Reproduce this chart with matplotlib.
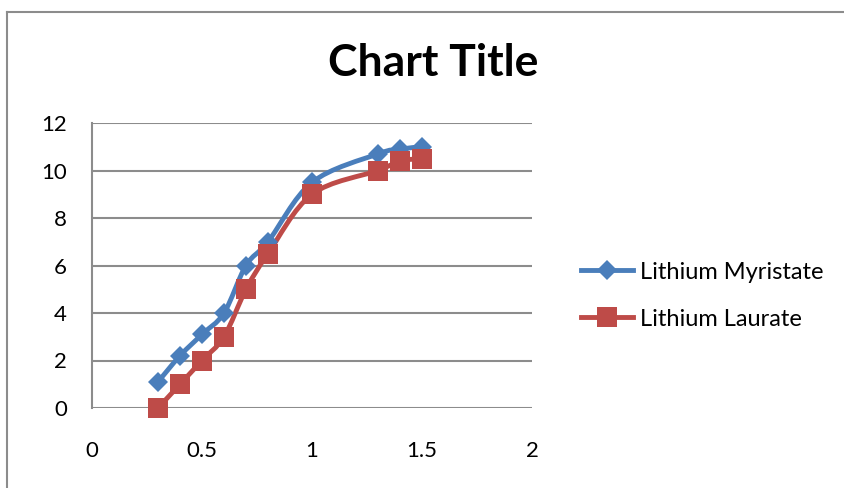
import numpy as np
import matplotlib.pyplot as plt
from matplotlib.path import Path
from matplotlib.patches import PathPatch
from matplotlib.lines import Line2D

# Dados das duas séries
conc = [0.3, 0.4, 0.5, 0.6, 0.7, 0.8, 1.0, 1.3, 1.4, 1.5]
myristate = [1.1, 2.2, 3.1, 4.0, 6.0, 7.0, 9.5, 10.7, 10.9, 11.0]
laurate = [0.0, 1.0, 2.0, 3.0, 5.0, 6.5, 9.0, 10.0, 10.4, 10.5]

x_ticks = [0, 0.5, 1, 1.5, 2]
x_labels = ["0", "0.5", "1", "1.5", "2"]
y_ticks = [0, 2, 4, 6, 8, 10, 12]

BLUE = "#4A7EBB"
RED = "#BE4B48"
GRID = "#8C8C8C"

plt.rcParams['font.family'] = ['Lato', 'DejaVu Sans']


def smooth_path(xs, ys):
    """Curva suavizada (Catmull-Rom em Bézier cúbica) passando pelos pontos."""
    pts = np.column_stack([xs, ys]).astype(float)
    n = len(pts)
    verts = [pts[0]]
    codes = [Path.MOVETO]
    for i in range(n - 1):
        p0 = pts[i - 1] if i > 0 else pts[i]
        p1 = pts[i]
        p2 = pts[i + 1]
        p3 = pts[i + 2] if i + 2 < n else pts[i + 1]
        c1 = p1 + (p2 - p0) / 6.0
        c2 = p2 - (p3 - p1) / 6.0
        verts += [c1, c2, p2]
        codes += [Path.CURVE4] * 3
    return Path(verts, codes)


fig = plt.figure(figsize=(8.44, 4.88), dpi=100)
ax = fig.add_axes([92 / 844, 1 - 408 / 488, 440 / 844, 285 / 488])

for ys, color, marker, ms, label in [
    (myristate, BLUE, "D", 10.5, "Lithium Myristate"),
    (laurate, RED, "s", 14, "Lithium Laurate"),
]:
    ax.add_patch(PathPatch(smooth_path(conc, ys), facecolor="none",
                           edgecolor=color, lw=3.5, capstyle="round",
                           joinstyle="round", zorder=3))
    ax.plot(conc, ys, linestyle="none", marker=marker, ms=ms, color=color,
            markeredgewidth=0, zorder=4, clip_on=False)
    ax.plot([], [], color=color, lw=3.5, marker=marker, ms=ms,
            markeredgewidth=0, label=label)

ax.set_xlim(0, 2)
ax.set_ylim(0, 12)
ax.set_xticks(x_ticks)
ax.set_xticklabels(x_labels)
ax.set_yticks(y_ticks)
ax.tick_params(axis="x", length=0, pad=24, labelsize=16)
ax.tick_params(axis="y", length=0, pad=18, labelsize=16)

ax.grid(axis="y", color=GRID, lw=1.5)
ax.set_axisbelow(True)
for side in ["top", "right", "bottom"]:
    ax.spines[side].set_visible(False)
ax.spines["left"].set_color(GRID)
ax.spines["left"].set_linewidth(1.5)

fig.text(433 / 844, 1 - 63 / 488, "Chart Title", ha="center", va="center",
         fontsize=32, fontweight="bold")

leg = ax.legend(loc="center left", bbox_to_anchor=(1.063, 0.394), frameon=False,
                fontsize=17, handlelength=2.2, labelspacing=1.1,
                handletextpad=0.3)

# Moldura externa do gráfico
fig.add_artist(Line2D([7 / 844, 7 / 844], [0, 1 - 12 / 488],
                      transform=fig.transFigure, color=GRID, lw=1.5))
fig.add_artist(Line2D([7 / 844, 1], [1 - 12 / 488, 1 - 12 / 488],
                      transform=fig.transFigure, color=GRID, lw=1.5))

fig.savefig("out.png", dpi=100)
